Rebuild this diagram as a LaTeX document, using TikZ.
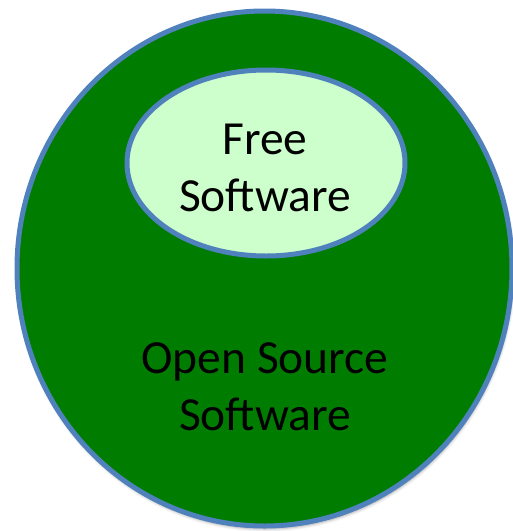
\documentclass[tikz,border=0pt]{standalone}
\usepackage{fontspec}
\setmainfont{Carlito}
\usepackage{xcolor}
\usetikzlibrary{shapes.geometric,shadows.blur}

\definecolor{ossgreen}{RGB}{0,125,0}
\definecolor{freegreen}{RGB}{204,255,204}
\definecolor{rimblue}{RGB}{79,129,189}

\begin{document}
\begin{tikzpicture}[
		x=1pt, y=-1pt,
		set/.style={
			ellipse,
			draw=rimblue,
			line width=5pt,
			inner sep=0pt
			},
		label/.style={
			align=center,
			font=\fontsize{47.5}{57.5}\selectfont,
			text=black
			}
		]
		\useasboundingbox (0,0) rectangle (513,531);

		% outer set
		\node[set, fill=ossgreen, minimum width=495pt, minimum height=515pt,
			blur shadow={shadow xshift=1pt, shadow yshift=-3pt, shadow opacity=35, shadow blur radius=3pt}]
			(oss) at (264.5,268.5) {};
		\node[label] (osstext) at (265,387) {Open Source\\Software};

		% inner set
		\node[set, fill=freegreen, minimum width=278pt, minimum height=186pt]
			(free) at (266,163) {};
		\node[label] (freetext) at (265,168) {Free\\Software};
	\end{tikzpicture}
\end{document}
